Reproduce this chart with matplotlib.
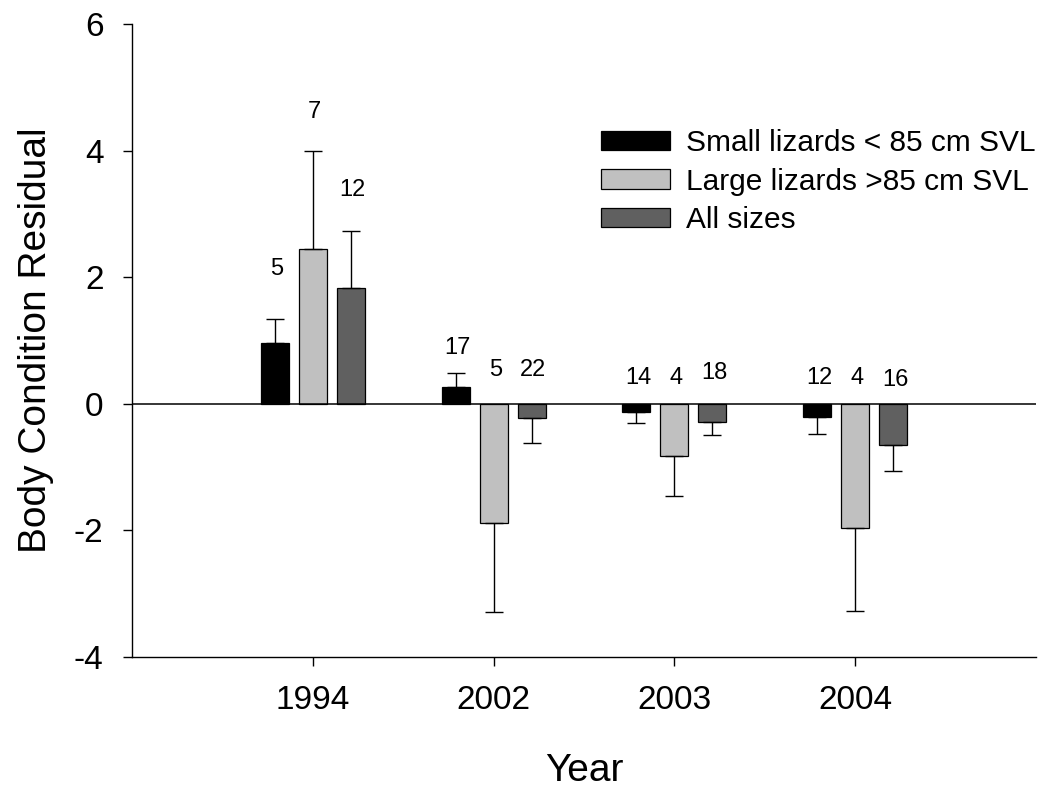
import matplotlib
matplotlib.use("Agg")
import matplotlib.pyplot as plt
import numpy as np

plt.rcParams['font.family'] = ['Liberation Sans', 'DejaVu Sans']

# ---- data -------------------------------------------------------------
years = ["1994", "2002", "2003", "2004"]
series_names = ["Small lizards < 85 cm SVL", "Large lizards >85 cm SVL", "All sizes"]

small_mean = [0.96, 0.27, -0.13, -0.21]
small_se = [0.38, 0.22, 0.17, 0.27]
small_n = [5, 17, 14, 12]

large_mean = [2.45, -1.88, -0.83, -1.96]
large_se = [1.55, 1.41, 0.62, 1.31]
large_n = [7, 5, 4, 4]

all_mean = [1.83, -0.22, -0.28, -0.65]
all_se = [0.90, 0.40, 0.21, 0.41]
all_n = [12, 22, 18, 16]

# ---- layout -----------------------------------------------------------
colors = ["#000000", "#c0c0c0", "#606060"]
bar_width = 0.155
offsets = [-0.21, 0.0, 0.21]
# vertical placement (data units) of the sample-size labels
label_y = [
    [2.13, 0.88, 0.41, 0.41],
    [4.61, 0.54, 0.41, 0.41],
    [3.38, 0.54, 0.49, 0.38],
]

fig = plt.figure(figsize=(10.47, 7.89), dpi=100)
ax = fig.add_axes([132 / 1047, 1 - 657 / 789, (1036 - 132) / 1047, (657 - 24) / 789])

x = np.arange(len(years))
means = [small_mean, large_mean, all_mean]
ses = [small_se, large_se, all_se]
ns = [small_n, large_n, all_n]

for i in range(3):
    m = np.array(means[i])
    s = np.array(ses[i])
    pos = x + offsets[i]
    ax.bar(pos, m, width=bar_width, color=colors[i], edgecolor="black",
           linewidth=0.9, label=series_names[i], zorder=2)
    lower = np.where(m < 0, s, 0)
    upper = np.where(m >= 0, s, 0)
    ax.errorbar(pos, m, yerr=[lower, upper], fmt="none", ecolor="black",
                elinewidth=1.0, capsize=6.5, capthick=1.0, zorder=3)
    for j in range(len(years)):
        ax.text(pos[j] + 0.01, label_y[i][j], str(ns[i][j]), ha="center",
                va="center", fontsize=17)

ax.axhline(0, color="black", linewidth=1.1, zorder=4)

ax.set_xlim(-1, 4)
ax.set_ylim(-4, 6)
ax.set_xticks(x)
ax.set_xticklabels(years)
ax.set_yticks([-4, -2, 0, 2, 4, 6])
ax.set_yticklabels(["-4", "-2", "0", "2", "4", "6"])
ax.tick_params(axis="both", direction="out", length=6.5, width=1.0,
               labelsize=24, pad=14)

for side in ["top", "right"]:
    ax.spines[side].set_visible(False)
for side in ["left", "bottom"]:
    ax.spines[side].set_linewidth(1.0)

ax.set_xlabel("Year", fontsize=28, labelpad=26)
ax.set_ylabel("Body Condition Residual", fontsize=28, labelpad=14)

ax.legend(loc="upper left", bbox_to_anchor=(0.519, 0.834), frameon=False,
          fontsize=21.5, handlelength=2.3, handleheight=0.62,
          handletextpad=0.55, labelspacing=0.35, borderaxespad=0,
          borderpad=0)

fig.savefig("out.png", dpi=100)
